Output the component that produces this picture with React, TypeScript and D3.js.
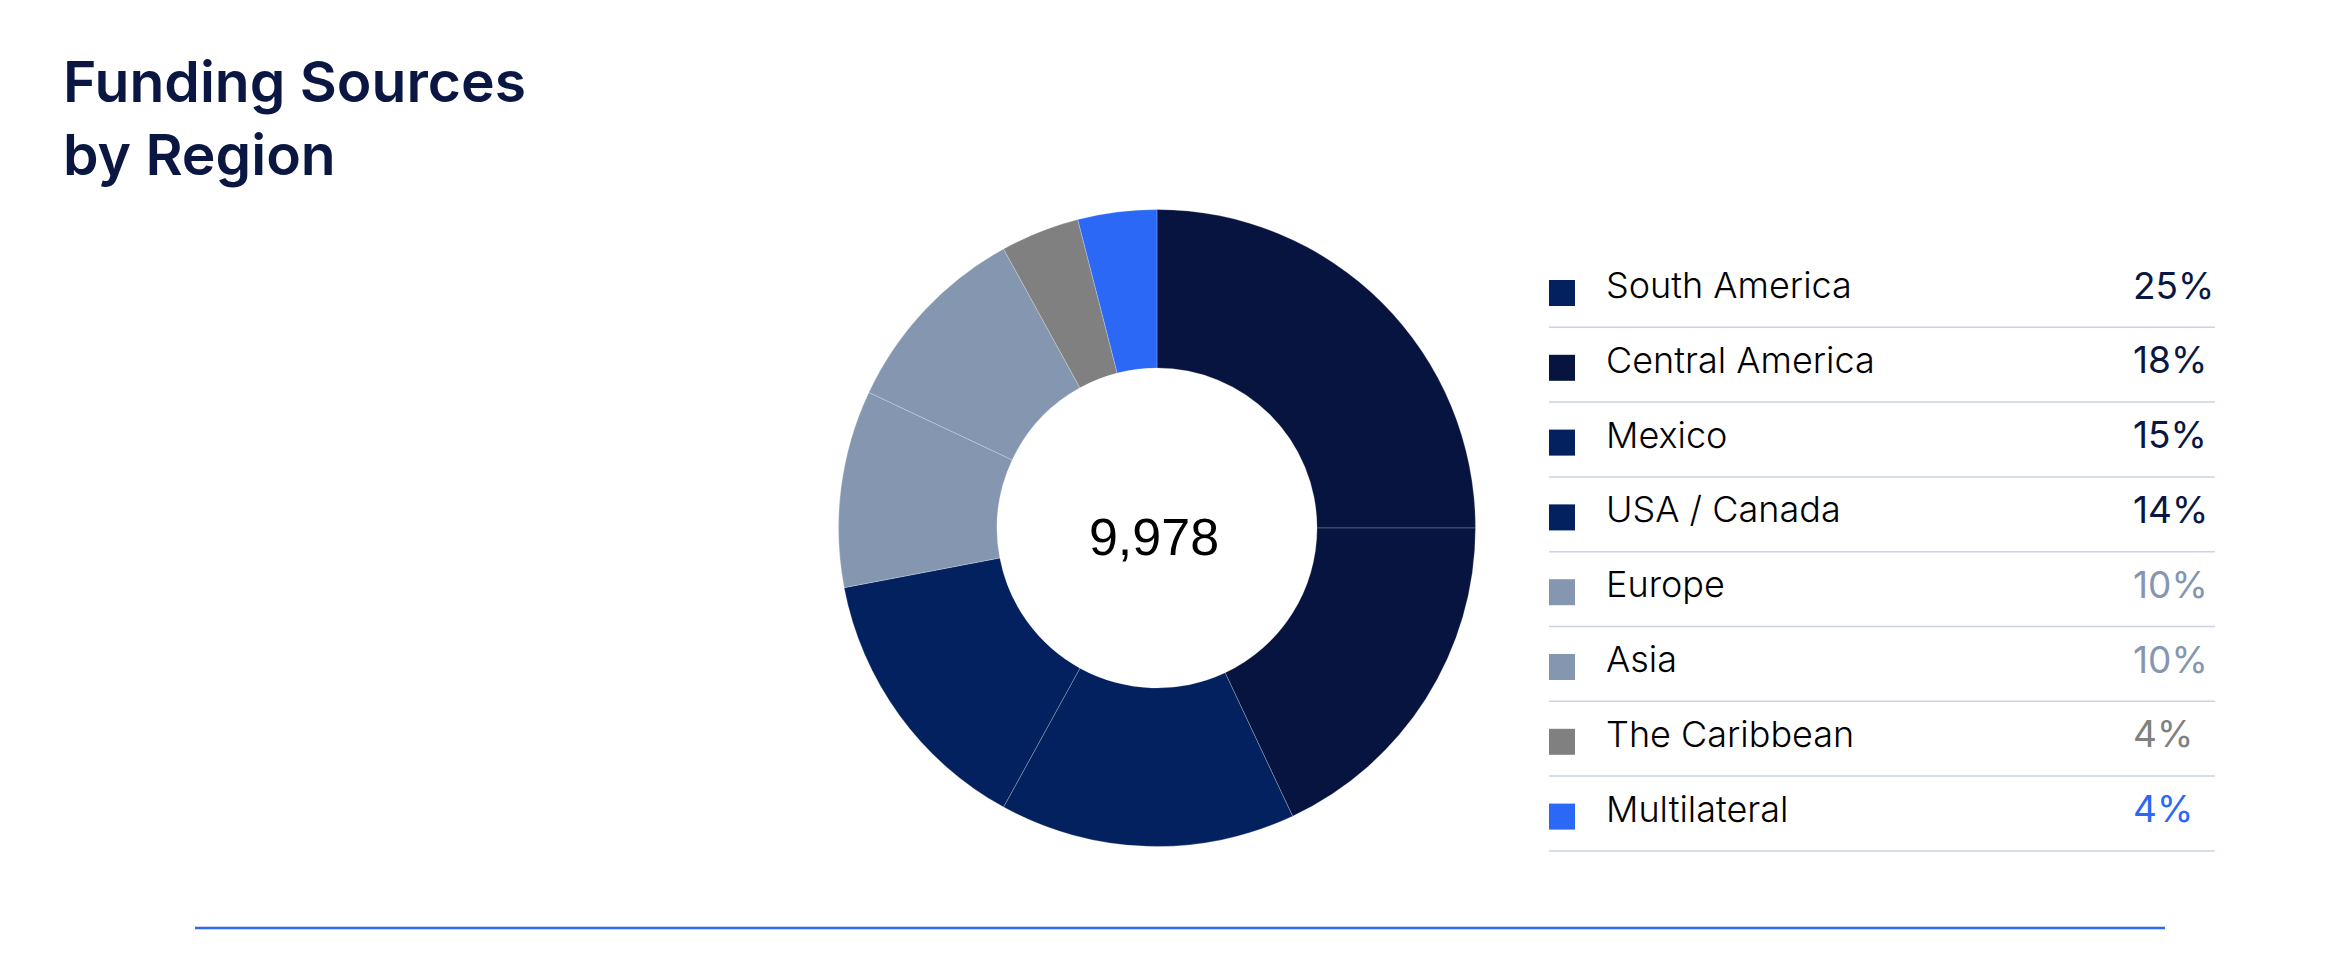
import React from "react";
import * as d3 from "d3";

const regions = ["South America", "Central America", "Mexico", "USA / Canada", "Europe", "Asia", "The Caribbean", "Multilateral"];
const shares = [25, 18, 15, 14, 10, 10, 4, 4];
const totalLabel = "9,978";
const titleLines = ["Funding Sources", "by Region"];

const sliceColors = ["#06143f", "#06143f", "#03205f", "#03205f", "#8596b0", "#8596b0", "#808080", "#2b68f5"];
const swatchColors = ["#03205f", "#06143f", "#03205f", "#03205f", "#8596b0", "#8596b0", "#808080", "#2b68f5"];
const pctColors = ["#0a1742", "#0a1742", "#0a1742", "#0a1742", "#8596b0", "#8596b0", "#808080", "#2b68f5"];

export default function App() {
  const W = 2332, H = 971;
  const cx = 1157, cy = 528, R = 318.5, r = 160;
  const pie = d3.pie<number>().sort(null).value((d) => d);
  const arcs = pie(shares);
  const arc = d3.arc<d3.PieArcDatum<number>>().innerRadius(r).outerRadius(R);

  const rowY = d3.scaleLinear().domain([0, 1]).range([0, 74.8]);

  return (
    <svg width={W} height={H} style={{ position: "absolute", left: 0, top: 0, background: "#fff" }}>
      <rect width={W} height={H} fill="#fff" />
      <g fontFamily="Inter, 'Noto Sans', sans-serif" fontWeight={600} fontSize={57} fill="#0a1742">
        {titleLines.map((t, i) => (
          <text key={t} x={63} y={101.5 + i * 73}>{t}</text>
        ))}
      </g>
      <g transform={`translate(${cx},${cy})`}>
        {arcs.map((a, i) => (
          <path key={regions[i]} d={arc(a) || ""} fill={sliceColors[i]} stroke="#ffffff" strokeWidth={0.8} strokeOpacity={0.3} />
        ))}
        <text x={-3} y={27} textAnchor="middle" fontFamily="'Liberation Sans', Arial, sans-serif" fontSize={52} fill="#000">{totalLabel}</text>
      </g>
      <g>
        {regions.map((name, i) => {
          const dy = rowY(i);
          return (
            <g key={name}>
              <rect x={1549} y={280 + dy} width={26} height={26} fill={swatchColors[i]} />
              <text x={1606} y={298 + dy} fontFamily="Inter, sans-serif" fontWeight={300} fontSize={36} fill="#000">{name}</text>
              <text x={2133} y={298.5 + dy} fontFamily="Inter, sans-serif" fontWeight={400} fontSize={37} fill={pctColors[i]}>{shares[i]}%</text>
              <line x1={1549} x2={2215} y1={327.3 + dy} y2={327.3 + dy} stroke="#c9d3e4" strokeWidth={1.5} />
            </g>
          );
        })}
      </g>
      <line x1={195} x2={2165} y1={928} y2={928} stroke="#2b68f5" strokeWidth={2.5} />
    </svg>
  );
}
